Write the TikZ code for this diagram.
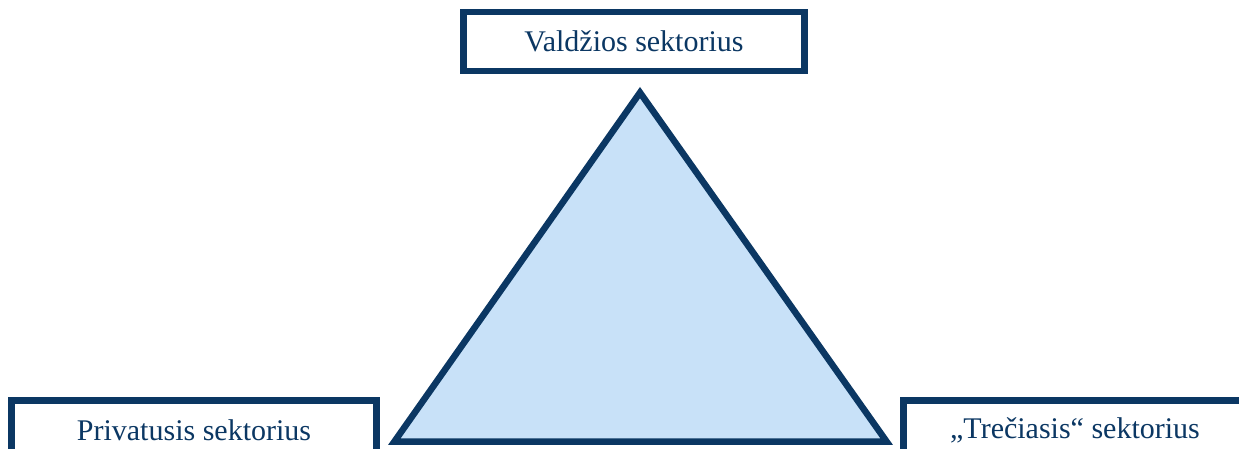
\documentclass[tikz,border=0pt]{standalone}
\usepackage{fontspec}
\setmainfont{Liberation Serif}
\usetikzlibrary{positioning}
\definecolor{sektline}{HTML}{0B3763}
\definecolor{sektfill}{HTML}{C8E1F8}
\tikzstyle{sektorius} = [rectangle, draw=sektline, line width=6.5pt, fill=white, text=sektline, minimum height=59pt, text centered, font=\fontsize{30}{36}\selectfont]
\tikzstyle{trikampis} = [draw=sektline, line width=6.5pt, line join=miter, fill=sektfill]

\begin{document}
\begin{tikzpicture}[x=1pt,y=-1pt]
\useasboundingbox (0,0) rectangle (1239,448);
\node (valdzia) [sektorius, minimum width=341pt] at (634,41.5) {Valdžios sektorius};
\node (privatus) [sektorius, minimum width=365pt] at (194,430) {Privatusis sektorius};
\node (trecias) [sektorius, minimum width=343pt] at (1075,430) {„Trečiasis“ sektorius};
\coordinate (virsus) at (640,92.6);
\coordinate (kaire) at (394.3,441.7);
\coordinate (desine) at (886.7,441.7);
\draw [trikampis] (virsus) -- (desine) -- (kaire) -- cycle;
\end{tikzpicture}
\end{document}
